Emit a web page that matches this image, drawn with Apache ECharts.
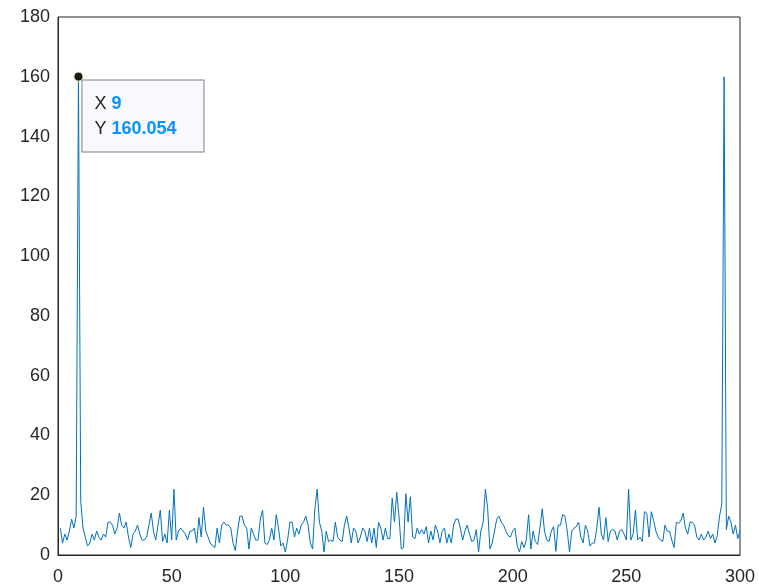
<!DOCTYPE html>
<html>
<head>
<meta charset="utf-8">
<script src="https://cdn.jsdelivr.net/npm/echarts@6/dist/echarts.min.js"></script>
<style>
  html, body { margin: 0; padding: 0; background: #fff; }
  #chart { width: 759px; height: 588px; }
</style>
</head>
<body>
<div id="chart"></div>
<script>
// magnitude spectrum, samples 1..300
const magnitude = [
  9, 4, 7, 5, 8, 12, 9, 13, 160.054, 18,
  9, 6, 3, 4, 7, 5, 8, 6, 5, 7,
  6, 11, 11, 10, 7, 9, 14, 10, 9, 11,
  6, 2.5, 7, 8, 10, 7, 5, 5, 6, 10,
  14, 8, 5, 10, 15, 4.5, 7, 4, 15, 5,
  22, 5, 8, 9, 8, 7, 5, 8, 8, 9,
  4, 12.5, 6, 16, 8, 6, 4, 3, 2.5, 9,
  4, 10, 11, 10, 10, 9, 4, 1.5, 8, 13,
  13, 10, 9, 2, 9, 7, 5, 5, 12, 15,
  4, 3.5, 5, 9, 5, 13.5, 9, 3, 4, 1,
  5, 11, 11, 6, 9, 7, 10, 11, 13, 10,
  4, 2, 15.5, 22, 11, 8, 1, 8, 4.5, 5,
  4.5, 11, 6, 5, 4.5, 10, 13, 9, 4, 9,
  8, 4, 6, 9, 8, 4.5, 9, 4, 9, 2.5,
  11, 9, 5, 9, 5.5, 5.5, 19, 11, 21, 13,
  2, 2.5, 20.5, 11, 19.5, 6, 5.5, 9, 7, 8.5,
  7, 9.5, 4, 8, 5, 10, 8, 4, 8, 9,
  4, 7, 4, 10, 12, 12, 9, 5, 8, 10,
  7, 4.5, 5, 8.5, 1, 8, 11, 22, 15.5, 2,
  4, 8, 12, 13, 11, 10, 8, 6.5, 6, 8,
  9, 3, 1, 4.5, 2.5, 5, 13.5, 2, 8, 4.5,
  3.5, 9, 15.5, 8, 5, 4.5, 8, 9.5, 1.2, 10,
  10, 13.5, 13, 8, 1, 8, 9, 9.5, 11, 6,
  4, 10, 8, 3, 4, 4, 9, 16, 7, 5,
  12.5, 4.5, 8, 8.5, 8, 5, 8, 8.5, 7, 5,
  22, 5, 7, 15, 5, 6, 4.5, 14.5, 14, 6,
  14.5, 11.5, 8, 6, 5, 4.5, 10, 8, 8, 5,
  2.5, 11, 10.5, 11.5, 14, 9, 7, 11, 11, 10,
  6, 5, 7, 5, 6, 8, 5.5, 7, 4, 6.5,
  13, 17, 160, 8.5, 13, 11, 7, 10, 5.5, 8
]
const xTicks = [0, 50, 100, 150, 200, 250, 300]
const yTicks = [0, 20, 40, 60, 80, 100, 120, 140, 160, 180]
const tipPoint = [9, 160.054]

const lineData = magnitude.map((v, i) => [i + 1, v])
const axisColor = '#262626'
const fontFamily = 'Liberation Sans, Arial, sans-serif'

const option = {
  backgroundColor: '#fff',
  animation: false,
  grid: {
    left: 58,
    right: 19,
    top: 17,
    bottom: 33,
    show: true,
    borderColor: axisColor,
    borderWidth: 1
  },
  xAxis: {
    type: 'value',
    min: xTicks[0],
    max: xTicks[xTicks.length - 1],
    interval: 50,
    axisLine: { lineStyle: { color: axisColor } },
    axisTick: { show: false },
    axisLabel: { color: axisColor, fontSize: 18, fontFamily: fontFamily, margin: 13 },
    splitLine: { show: false }
  },
  yAxis: {
    type: 'value',
    min: yTicks[0],
    max: yTicks[yTicks.length - 1],
    interval: 20,
    axisLine: { show: true, lineStyle: { color: axisColor } },
    axisTick: { show: false },
    axisLabel: { color: axisColor, fontSize: 18, fontFamily: fontFamily, margin: 8 },
    splitLine: { show: false }
  },
  series: [{
    type: 'line',
    data: lineData,
    showSymbol: false,
    lineStyle: { color: '#0072BD', width: 1 },
    markPoint: {
      symbol: 'circle',
      symbolSize: 9,
      itemStyle: { color: '#1a1a1a', borderColor: '#e6e6a0', borderWidth: 1 },
      label: {
        show: true,
        position: [9, 9],
        backgroundColor: '#f8f8fe',
        borderColor: '#7f7f7f',
        borderWidth: 1,
        padding: [11, 10, 10, 12],
        width: 99,
        lineHeight: 25,
        fontSize: 18,
        fontFamily: fontFamily,
        formatter: '{k|X }{v|' + tipPoint[0] + '}\n{k|Y }{v|' + tipPoint[1] + '}',
        rich: {
          k: { color: axisColor, fontSize: 18, fontFamily: fontFamily, lineHeight: 25 },
          v: { color: '#0095ff', fontSize: 18, fontWeight: 'bold', fontFamily: fontFamily, lineHeight: 25 }
        }
      },
      data: [{ coord: tipPoint }]
    }
  }]
}

const myChart = echarts.init(document.getElementById('chart'))
myChart.setOption(option)
</script>
</body>
</html>
